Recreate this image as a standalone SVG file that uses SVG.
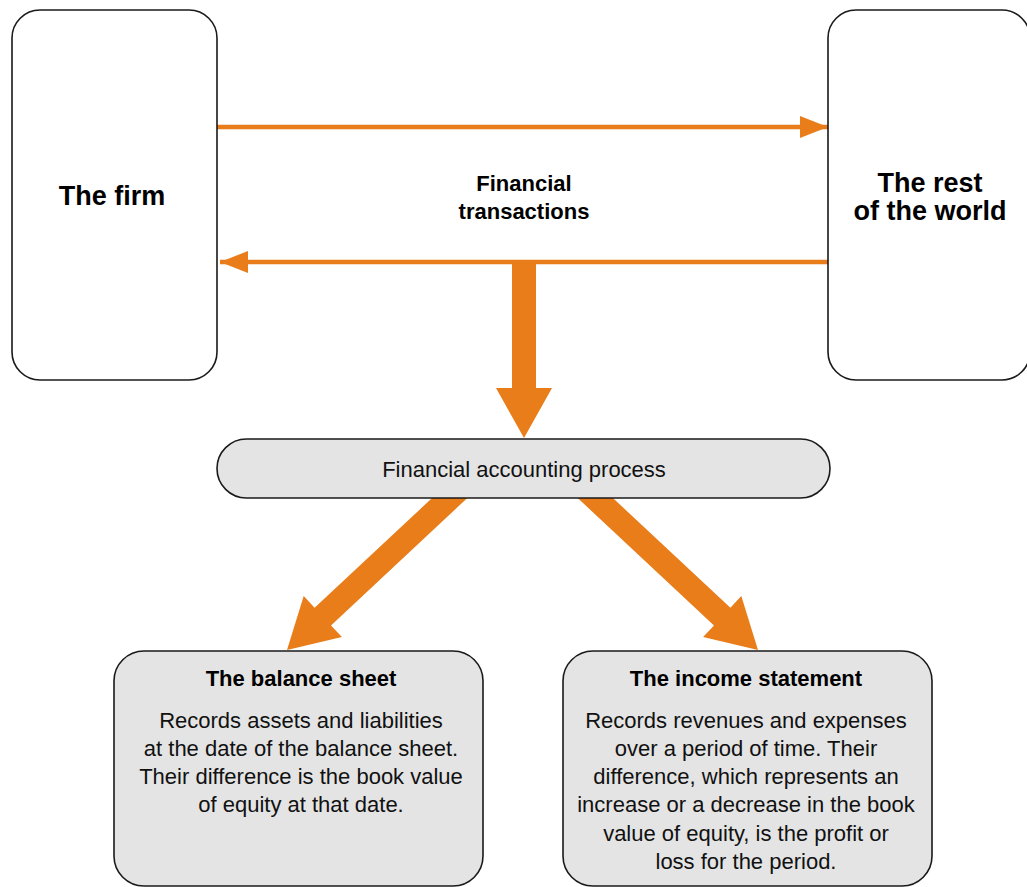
<svg xmlns="http://www.w3.org/2000/svg" width="1027" height="887" viewBox="0 0 1027 887">
  <style>
    .box { fill: #ffffff; stroke: #1a1a1a; stroke-width: 1.6; }
    .grey { fill: #e4e4e4; stroke: #1a1a1a; stroke-width: 1.6; }
    .big { font-family: "Liberation Sans", Arial, sans-serif; font-weight: bold; font-size: 27px; fill: #000; text-anchor: middle; }
    .head { font-family: "Liberation Sans", Arial, sans-serif; font-weight: bold; font-size: 22px; fill: #000; text-anchor: middle; }
    .body { font-family: "Liberation Sans", Arial, sans-serif; font-size: 22px; fill: #111; text-anchor: middle; }
    .flow { stroke: #E87D1A; stroke-width: 4.5; fill: none; }
    .fat { fill: #E87D1A; stroke: none; }
  </style>
  <defs>
    <marker id="tip" viewBox="0 0 28 22" refX="28" refY="11" markerWidth="28" markerHeight="22" markerUnits="userSpaceOnUse" orient="auto">
      <path d="M0,0 L28,11 L0,22 Z" fill="#E87D1A"/>
    </marker>
  </defs>

  <!-- connectors -->
  <g id="connectors">
    <line class="flow" x1="217" y1="127" x2="828" y2="127" marker-end="url(#tip)"/>
    <line class="flow" x1="828" y1="262" x2="220" y2="262" marker-end="url(#tip)"/>
    <!-- transactions feed the accounting process -->
    <polygon class="fat" points="512,260 536,260 536,388 552,388 524,438 496,388 512,388"/>
    <!-- process to balance sheet -->
    <polygon class="fat" points="460.8,471.2 314.6,607.8 303.7,596.1 287,650 341.9,637.1 331,625.4 477.2,488.8"/>
    <!-- process to income statement -->
    <polygon class="fat" points="584.2,471.2 730.4,607.8 741.3,596.1 758,650 703.1,637.1 714,625.4 567.8,488.8"/>
  </g>

  <g id="firm">
    <rect class="box" x="12" y="10" width="205" height="370" rx="28"/>
    <text class="big" x="112" y="205">The firm</text>
  </g>

  <g id="world">
    <rect class="box" x="828" y="10" width="202" height="370" rx="28"/>
    <text class="big" x="930" y="192">The rest</text>
    <text class="big" x="930" y="220">of the world</text>
  </g>

  <g id="transactions-label">
    <text class="head" x="524" y="191">Financial</text>
    <text class="head" x="524" y="219">transactions</text>
  </g>

  <g id="process">
    <rect class="grey" x="217" y="439" width="613" height="59" rx="29.5"/>
    <text class="body" x="524" y="477">Financial accounting process</text>
  </g>

  <g id="balance-sheet">
    <rect class="grey" x="114" y="651" width="369" height="235" rx="30"/>
    <text class="head" x="301" y="686">The balance sheet</text>
    <text class="body" x="301" y="728">Records assets and liabilities</text>
    <text class="body" x="301" y="756">at the date of the balance sheet.</text>
    <text class="body" x="301" y="784">Their difference is the book value</text>
    <text class="body" x="301" y="812">of equity at that date.</text>
  </g>

  <g id="income-statement">
    <rect class="grey" x="563" y="651" width="369" height="235" rx="30"/>
    <text class="head" x="746" y="686">The income statement</text>
    <text class="body" x="746" y="728">Records revenues and expenses</text>
    <text class="body" x="746" y="756">over a period of time. Their</text>
    <text class="body" x="746" y="784">difference, which represents an</text>
    <text class="body" x="746" y="812">increase or a decrease in the book</text>
    <text class="body" x="746" y="841">value of equity, is the profit or</text>
    <text class="body" x="746" y="869">loss for the period.</text>
  </g>
</svg>
